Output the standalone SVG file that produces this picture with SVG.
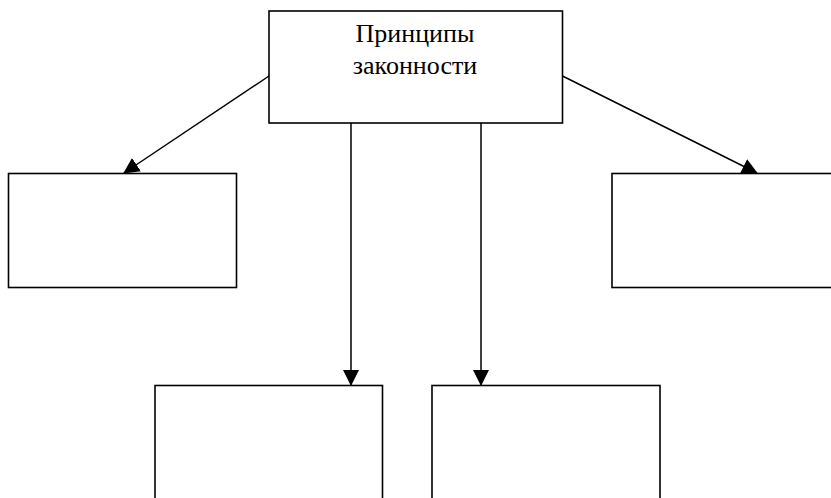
<svg xmlns="http://www.w3.org/2000/svg" width="831" height="498" viewBox="0 0 831 498">
<defs>
<style>
.box{fill:#fff;stroke:#000;stroke-width:1.6}
.con{stroke:#000;stroke-width:1.5;fill:none;marker-end:url(#ah)}
.lbl{font-family:"Liberation Serif","Times New Roman",serif;font-size:26px;fill:#000;text-anchor:middle}
</style>
<marker id="ah" markerUnits="userSpaceOnUse" markerWidth="16" markerHeight="16" viewBox="0 0 16 16" refX="15" refY="8" orient="auto">
<path d="M0,0 L16,8 L0,16 Z" fill="#000"/>
</marker>
</defs>
<rect width="831" height="498" fill="#fff"/>
<g id="top">
<rect class="box" x="269" y="11" width="293.5" height="112"/>
<text class="lbl" x="415" y="42">Принципы</text>
<text class="lbl" x="415" y="74">законности</text>
</g>
<g id="left">
<rect class="box" x="8.5" y="173.5" width="228" height="114"/>
</g>
<g id="right">
<rect class="box" x="612" y="173.5" width="230" height="114"/>
</g>
<g id="bottom1">
<rect class="box" x="155" y="385.5" width="227.5" height="130"/>
</g>
<g id="bottom2">
<rect class="box" x="432" y="385.5" width="228" height="130"/>
</g>
<g id="connectors">
<line class="con" x1="269" y1="76" x2="124" y2="173"/>
<line class="con" x1="562.5" y1="76" x2="757" y2="173"/>
<line class="con" x1="351" y1="123" x2="351" y2="385"/>
<line class="con" x1="481" y1="123" x2="481" y2="385"/>
</g>
</svg>
